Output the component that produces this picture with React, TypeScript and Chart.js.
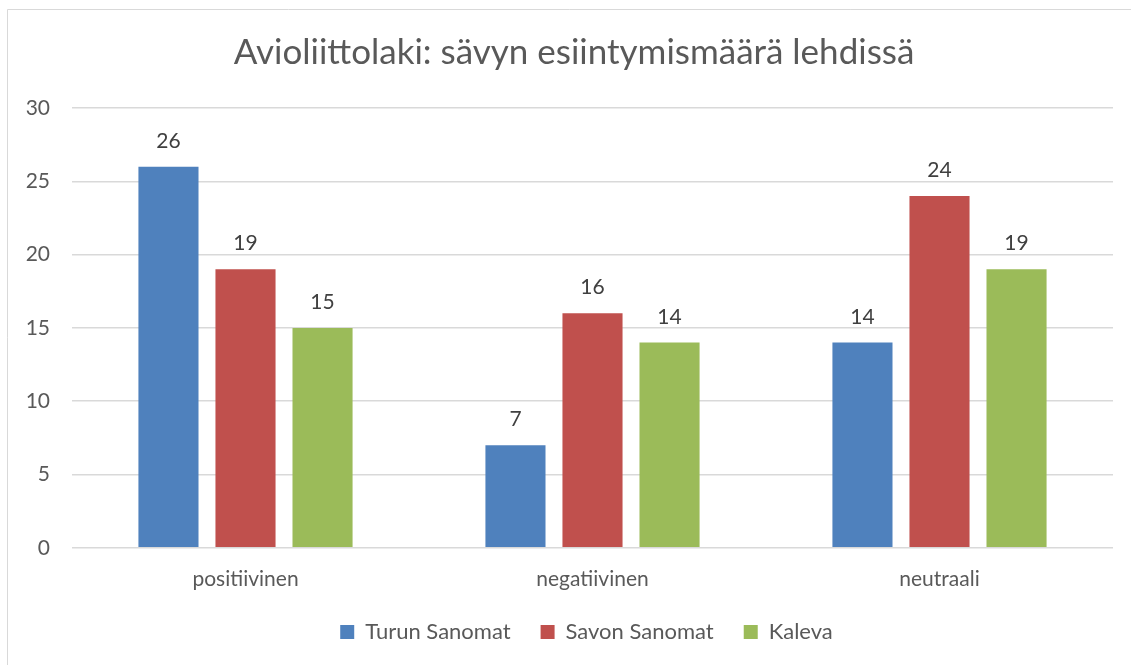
import React, { useEffect, useRef } from "react";
import { Chart, registerables } from "chart.js";
Chart.register(...registerables);

const TITLE = "Avioliittolaki: sävyn esiintymismäärä lehdissä";
const categories = ["positiivinen", "negatiivinen", "neutraali"];
const seriesNames = ["Turun Sanomat", "Savon Sanomat", "Kaleva"];
const turunSanomat = [26, 7, 14];
const savonSanomat = [19, 16, 24];
const kaleva = [15, 14, 19];
const colors = ["#4f81bd", "#c0504d", "#9bbb59"];
const yMax = 30;
const yStep = 5;

const FONT = "Lato, Open Sans, sans-serif";
const TITLE_SIZE = 35;

const frame = {
  id: "frame",
  beforeDraw(chart: any) {
    const ctx = chart.ctx;
    ctx.save();
    ctx.fillStyle = "#ffffff";
    ctx.fillRect(0, 0, chart.width, chart.height);
    ctx.strokeStyle = "#d9d9d9";
    ctx.lineWidth = 1;
    ctx.beginPath();
    ctx.moveTo(7.5, chart.height);
    ctx.lineTo(7.5, 9.5);
    ctx.lineTo(chart.width, 9.5);
    ctx.stroke();
    ctx.restore();
  },
  afterLayout(chart: any) {
    if (chart.legend) {
      chart.legend.left += 25;
      chart.legend.right += 25;
    }
  },
  afterDraw(chart: any) {
    const tb = chart.titleBlock;
    const ctx = chart.ctx;
    ctx.save();
    ctx.font = `${TITLE_SIZE}px ${FONT}`;
    ctx.fillStyle = "#595959";
    ctx.textAlign = "center";
    ctx.textBaseline = "middle";
    const y = tb ? tb.top + (TITLE_SIZE * 1.2) / 2 : 52;
    ctx.fillText(TITLE, 574, y);
    ctx.restore();
  },
};

const labels = {
  id: "valueLabels",
  afterDatasetsDraw(chart: any) {
    const ctx = chart.ctx;
    ctx.save();
    ctx.font = `21px ${FONT}`;
    ctx.fillStyle = "#404040";
    ctx.textAlign = "center";
    ctx.textBaseline = "alphabetic";
    chart.data.datasets.forEach((ds: any, i: number) => {
      const meta = chart.getDatasetMeta(i);
      meta.data.forEach((el: any, j: number) => {
        ctx.fillText(String(ds.data[j]), el.x, el.y - 19);
      });
    });
    ctx.restore();
  },
};

export default function App() {
  const ref = useRef<HTMLCanvasElement>(null);
  useEffect(() => {
    document.body.style.margin = "0";
    const series = [turunSanomat, savonSanomat, kaleva];
    const chart = new Chart(ref.current!, {
      type: "bar",
      data: {
        labels: categories,
        datasets: series.map((d, i) => ({
          label: seriesNames[i],
          data: d,
          backgroundColor: colors[i],
          borderWidth: 0,
          barPercentage: 0.78,
          categoryPercentage: 0.666,
        })),
      },
      options: {
        animation: false,
        responsive: false,
        layout: { padding: { left: 10, right: 18, top: 32, bottom: 12 } },
        plugins: {
          title: {
            display: true,
            text: TITLE,
            color: "rgba(0,0,0,0)",
            font: { family: FONT, size: TITLE_SIZE, weight: "normal" },
            padding: { top: 0, bottom: 34 },
          },
          legend: {
            position: "bottom",
            labels: {
              color: "#595959",
              font: { family: FONT, size: 22 },
              boxWidth: 14,
              boxHeight: 14,
              padding: 30,
            },
          },
          tooltip: { enabled: false },
        },
        scales: {
          x: {
            grid: { display: false },
            border: { display: false },
            afterFit: (s: any) => {
              s.height = s.height - 12;
            },
            ticks: { color: "#595959", font: { family: FONT, size: 21 }, padding: 11 },
          },
          y: {
            min: 0,
            max: yMax,
            afterFit: (s: any) => {
              s.width = 62;
            },
            ticks: { stepSize: yStep, color: "#595959", font: { family: FONT, size: 21 }, padding: 22 },
            grid: { color: "#d9d9d9", lineWidth: 1.5, drawTicks: false },
            border: { display: false },
          },
        },
      },
      plugins: [frame, labels],
    });
    return () => chart.destroy();
  }, []);
  return (
    <div style={{ position: "fixed", left: 0, top: 0, width: 1131, height: 665 }}>
      <canvas ref={ref} width={1131} height={665} />
    </div>
  );
}
